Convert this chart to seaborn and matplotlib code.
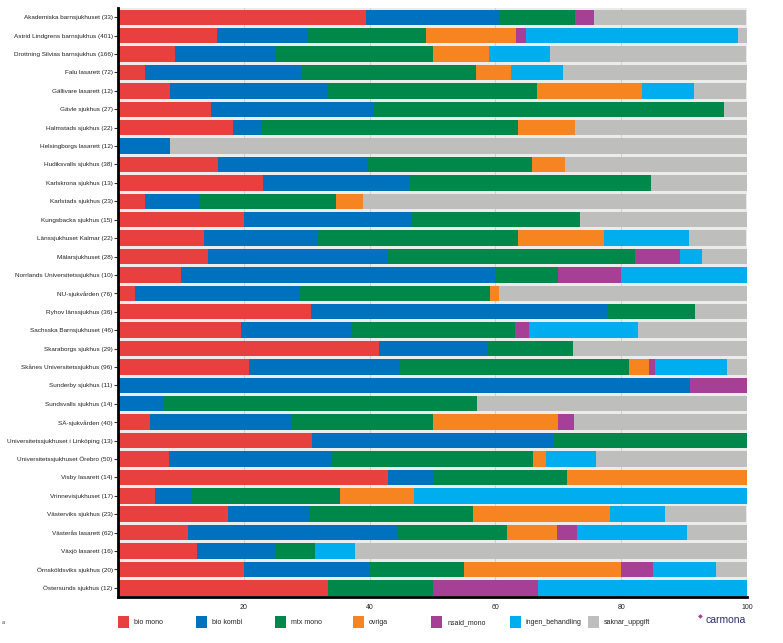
import numpy as np
import pandas as pd
import matplotlib.pyplot as plt
import seaborn as sns
from matplotlib.patches import Rectangle

hospitals = ["Akademiska barnsjukhuset (33)", "Astrid Lindgrens barnsjukhus (401)",
             "Drottning Silvias barnsjukhus (166)", "Falu lasarett (72)", "Gällivare lasarett (12)",
             "Gävle sjukhus (27)", "Halmstads sjukhus (22)", "Helsingborgs lasarett (12)",
             "Hudiksvalls sjukhus (38)", "Karlskrona sjukhus (13)", "Karlstads sjukhus (23)",
             "Kungsbacka sjukhus (15)", "Länssjukhuset Kalmar (22)", "Mälarsjukhuset (28)",
             "Norrlands Universitetssjukhus (10)", "NU-sjukvården (76)", "Ryhov länssjukhus (36)",
             "Sachsska Barnsjukhuset (46)", "Skaraborgs sjukhus (29)", "Skånes Universitetssjukhus (96)",
             "Sunderby sjukhus (11)", "Sundsvalls sjukhus (14)", "SÄ-sjukvården (40)",
             "Universitetssjukhuset i Linköping (13)", "Universitetssjukhuset Örebro (50)",
             "Visby lasarett (14)", "Vrinnevisjukhuset (17)", "Västerviks sjukhus (23)",
             "Västerås lasarett (62)", "Växjö lasarett (16)", "Örnsköldsviks sjukhus (20)",
             "Östersunds sjukhus (12)"]

# percent per category, same order as hospitals
bio_mono = [39.4, 15.7, 9.0, 4.2, 8.3, 14.8, 18.2, 0.0, 15.8, 23.1, 4.3, 20.0, 13.6, 14.3, 10.0, 2.6,
            30.6, 19.6, 41.4, 20.8, 0.0, 0.0, 5.0, 30.8, 8.0, 42.9, 5.9, 17.4, 11.1, 12.5, 20.0, 33.3]
bio_kombi = [21.2, 14.5, 15.9, 25.0, 25.0, 25.9, 4.5, 8.3, 23.7, 23.1, 8.7, 26.7, 18.2, 28.6, 50.0, 26.3,
             47.2, 17.4, 17.2, 24.0, 90.9, 7.1, 22.5, 38.5, 26.0, 7.1, 5.9, 13.0, 33.3, 12.5, 20.0, 0.0]
mtx_mono = [12.1, 18.8, 25.1, 27.7, 33.3, 55.6, 40.9, 0.0, 26.3, 38.5, 21.7, 26.7, 31.8, 39.3, 10.0, 30.3,
            13.9, 26.1, 13.8, 36.5, 0.0, 50.0, 22.5, 30.8, 32.0, 21.4, 23.5, 26.1, 17.5, 6.3, 15.0, 16.7]
ovriga = [0.0, 14.2, 9.0, 5.6, 16.7, 0.0, 9.1, 0.0, 5.3, 0.0, 4.3, 0.0, 13.6, 0.0, 0.0, 1.3,
          0.0, 0.0, 0.0, 3.1, 0.0, 0.0, 20.0, 0.0, 2.0, 28.6, 11.8, 21.7, 7.9, 0.0, 25.0, 0.0]
nsaid_mono = [3.0, 1.6, 0.0, 0.0, 0.0, 0.0, 0.0, 0.0, 0.0, 0.0, 0.0, 0.0, 0.0, 7.1, 10.0, 0.0,
              0.0, 2.2, 0.0, 1.0, 9.1, 0.0, 2.5, 0.0, 0.0, 0.0, 0.0, 0.0, 3.2, 0.0, 5.0, 16.7]
ingen_behandling = [0.0, 33.8, 9.6, 8.3, 8.3, 0.0, 0.0, 0.0, 0.0, 0.0, 0.0, 0.0, 13.6, 3.6, 20.0, 0.0,
                    0.0, 17.4, 0.0, 11.5, 0.0, 0.0, 0.0, 0.0, 8.0, 0.0, 52.9, 8.7, 17.5, 6.3, 10.0, 33.3]
saknar_uppgift = [24.2, 1.4, 31.3, 29.2, 8.3, 3.7, 27.3, 91.7, 28.9, 15.4, 60.9, 26.7, 9.1, 7.1, 0.0, 39.5,
                  8.3, 17.4, 27.6, 3.1, 0.0, 42.9, 27.5, 0.0, 24.0, 0.0, 0.0, 13.0, 9.5, 62.5, 5.0, 0.0]

series = ["bio mono", "bio kombi", "mtx mono", "ovriga", "nsaid_mono", "ingen_behandling", "saknar_uppgift"]
colors = ["#E8403F", "#0071BF", "#00884A", "#F58421", "#A63F96", "#00AEEF", "#BEBFBD"]

df = pd.DataFrame({"hospital": hospitals, "bio mono": bio_mono, "bio kombi": bio_kombi,
                   "mtx mono": mtx_mono, "ovriga": ovriga, "nsaid_mono": nsaid_mono,
                   "ingen_behandling": ingen_behandling, "saknar_uppgift": saknar_uppgift})
cum = df[series].cumsum(axis=1)
cum["hospital"] = df["hospital"]

sns.set_style("white")
plt.rcParams["font.family"] = ["Liberation Sans", "DejaVu Sans"]

fig = plt.figure(figsize=(7.83, 6.43), dpi=100)
ax = fig.add_axes([0.151, 0.0715, 0.803, 0.916])
ax.set_facecolor("#ececec")

# stacked: draw cumulative totals from the back
for s, c in reversed(list(zip(series, colors))):
    sns.barplot(data=cum, x=s, y="hospital", orient="h", color=c, width=0.84,
                saturation=1, edgecolor="none", ax=ax, zorder=2)

ax.set_xlim(0, 100)
ax.set_ylim(len(hospitals) - 0.5, -0.5)
ax.set_xticks([20, 40, 60, 80, 100])
ax.set_xticklabels(["20", "40", "60", "80", "100"])
ax.xaxis.grid(True, color="#d0d0d0", linewidth=0.8, zorder=1)
ax.set_axisbelow(True)
ax.set_xlabel("")
ax.set_ylabel("")
ax.tick_params(axis="y", labelsize=4.6, length=3, width=0.8, color="#333333", labelcolor="#222222", pad=1, left=True)
ax.tick_params(axis="x", labelsize=5, length=0, labelcolor="#222222", pad=5)
for side in ["top", "right"]:
    ax.spines[side].set_visible(False)
for side in ["left", "bottom"]:
    ax.spines[side].set_linewidth(2)
    ax.spines[side].set_color("black")

# legend with fixed spacing like the original
W, H = 783, 643
for i, (s, c) in enumerate(zip(series, colors)):
    x0 = 118 + i * 78.3
    fig.add_artist(Rectangle((x0 / W, 1 - 628 / H), 11 / W, 12 / H, transform=fig.transFigure,
                             facecolor=c, edgecolor="none"))
    fig.text((x0 + 16) / W, 1 - 623 / H, s, fontsize=5, color="#222222", va="center", ha="left")

fig.text(706 / W, 1 - 620 / H, "carmona", fontsize=7.5, color="#2a3068", ha="left", va="center")
fig.text(700 / W, 1 - 617 / H, "\u25c6", fontsize=4.5, color="#A63F96", ha="center", va="center")
fig.text(2 / W, 1 - 622 / H, "a", fontsize=4, color="#444444", ha="left", va="center")

fig.savefig("out.png", dpi=100)
